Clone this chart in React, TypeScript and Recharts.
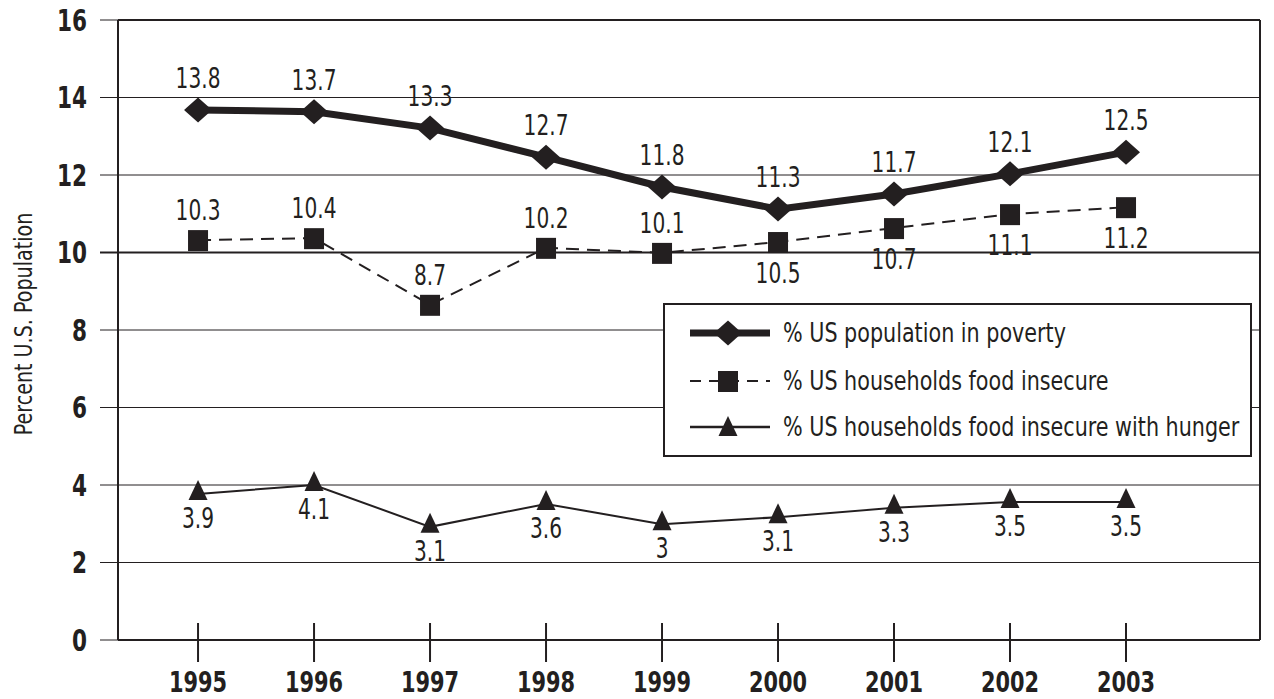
import React from 'react';
import { LineChart, Line, XAxis, YAxis, CartesianGrid, ReferenceLine, LabelList, Legend } from 'recharts';

const years = [1995, 1996, 1997, 1998, 1999, 2000, 2001, 2002, 2003];
const povertyValues = [13.68, 13.63, 13.21, 12.46, 11.69, 11.12, 11.51, 12.03, 12.59];
const povertyLabels = ['13.8', '13.7', '13.3', '12.7', '11.8', '11.3', '11.7', '12.1', '12.5'];
const insecureValues = [10.32, 10.37, 8.65, 10.12, 9.99, 10.27, 10.63, 10.99, 11.17];
const insecureLabels = ['10.3', '10.4', '8.7', '10.2', '10.1', '10.5', '10.7', '11.1', '11.2'];
const hungerValues = [3.77, 4.0, 2.92, 3.51, 2.99, 3.17, 3.41, 3.56, 3.56];
const hungerLabels = ['3.9', '4.1', '3.1', '3.6', '3', '3.1', '3.3', '3.5', '3.5'];
const seriesNames = [
  '% US population in poverty',
  '% US households food insecure',
  '% US households food insecure with hunger',
];
const yTicks = [0, 2, 4, 6, 8, 10, 12, 14, 16];
const yAxisTitle = 'Percent U.S. Population';

const X_MIN = 1994.31;
const X_MAX = 2004.155;

const data = years.map((year, i) => ({
  year,
  poverty: povertyValues[i],
  insecure: insecureValues[i],
  hunger: hungerValues[i],
}));

const FONT = "'Liberation Sans Narrow', 'DejaVu Sans Condensed', 'Arial Narrow', sans-serif";
const INK = '#231f20';

const ScaledText = ({
  x,
  y,
  size,
  anchor = 'middle',
  bold = false,
  rotate = 0,
  sx = 0.8,
  dy,
  children,
}: any) => (
  <text
    transform={`translate(${x},${y}) rotate(${rotate}) scale(${sx},1)`}
    x={0}
    y={0}
    dy={dy}
    textAnchor={anchor}
    fontFamily={FONT}
    fontSize={size}
    fontWeight={bold ? 'bold' : 'normal'}
    fill={INK}
  >
    {children}
  </text>
);

const diamondPts = (cx: number, cy: number) =>
  `${cx - 14},${cy} ${cx},${cy - 12.5} ${cx + 14},${cy} ${cx},${cy + 12.5}`;
const trianglePts = (cx: number, cy: number) =>
  `${cx},${cy - 14} ${cx + 9.5},${cy + 6} ${cx - 9.5},${cy + 6}`;

const DiamondDot = (p: any) => {
  if (p.cx == null || p.cy == null) return <g key={p.index} />;
  return <polygon key={`d${p.index}`} points={diamondPts(p.cx, p.cy)} fill={INK} />;
};
const SquareDot = (p: any) => {
  if (p.cx == null || p.cy == null) return <g key={p.index} />;
  return <rect key={`s${p.index}`} x={p.cx - 10} y={p.cy - 10} width={20} height={21} fill={INK} />;
};
const TriangleDot = (p: any) => {
  if (p.cx == null || p.cy == null) return <g key={p.index} />;
  return <polygon key={`t${p.index}`} points={trianglePts(p.cx, p.cy)} fill={INK} />;
};

const px = (p: any) => (p.x != null ? p.x : p.viewBox ? p.viewBox.x : 0);
const py = (p: any) => (p.y != null ? p.y : p.viewBox ? p.viewBox.y : 0);

const makeLabel = (labels: string[], offset: (i: number) => number) => (p: any) => (
  <ScaledText key={`l${p.index}`} x={px(p)} y={py(p) + offset(p.index)} size={28} sx={0.8}>
    {labels[p.index]}
  </ScaledText>
);

const XTick = (p: any) => {
  const { x, y, payload } = p;
  return (
    <g>
      <line x1={x} x2={x} y1={y - 17} y2={y + 22} stroke={INK} strokeWidth={2} />
      <ScaledText x={x} y={y + 52} size={29} bold sx={0.8}>
        {payload.value}
      </ScaledText>
    </g>
  );
};

const YTick = (p: any) => {
  const { x, y, payload } = p;
  return (
    <g>
      <line x1={x - 18} x2={x} y1={y} y2={y} stroke={INK} strokeWidth={payload.value === 10 ? 2 : 1} />
      <ScaledText x={x - 31} y={y} dy="0.36em" anchor="end" size={30} bold sx={0.8}>
        {payload.value}
      </ScaledText>
    </g>
  );
};

const LegendBox = () => {
  const rows = [28, 76, 122];
  return (
    <div
      style={{
        width: '100%',
        height: '100%',
        boxSizing: 'border-box',
        border: `2px solid ${INK}`,
        background: '#fff',
      }}
    >
      <svg width={585} height={150} style={{ display: 'block' }}>
        {seriesNames.map((name, i) => {
          const cy = rows[i];
          return (
            <g key={name}>
              {i === 0 && <line x1={25} x2={105} y1={cy} y2={cy} stroke={INK} strokeWidth={7} />}
              {i === 1 && (
                <line x1={25} x2={105} y1={cy} y2={cy} stroke={INK} strokeWidth={2} strokeDasharray="11 8" />
              )}
              {i === 2 && <line x1={25} x2={105} y1={cy} y2={cy} stroke={INK} strokeWidth={2.5} />}
              {i === 0 && <polygon points={diamondPts(63, cy)} fill={INK} />}
              {i === 1 && <rect x={53} y={cy - 10} width={20} height={21} fill={INK} />}
              {i === 2 && <polygon points={trianglePts(63, cy + 3)} fill={INK} />}
              <ScaledText x={118} y={cy} dy="0.36em" anchor="start" size={26} sx={0.885}>
                {name}
              </ScaledText>
            </g>
          );
        })}
      </svg>
    </div>
  );
};

export default function App() {
  return (
    <div style={{ position: 'absolute', left: 0, top: 0, width: 1274, height: 699, background: '#fff' }}>
      <LineChart width={1274} height={699} data={data} margin={{ top: 20, right: 14, bottom: 0, left: 0 }}>
        <CartesianGrid vertical={false} stroke={INK} strokeWidth={1} />
        <XAxis
          dataKey="year"
          type="number"
          domain={[X_MIN, X_MAX]}
          allowDataOverflow
          ticks={years}
          interval={0}
          height={59}
          tickSize={0}
          tickMargin={0}
          tickLine={false}
          axisLine={{ stroke: INK, strokeWidth: 2 }}
          tick={<XTick />}
        />
        <YAxis
          type="number"
          domain={[0, 16]}
          ticks={yTicks}
          interval={0}
          width={118}
          tickSize={0}
          tickMargin={0}
          tickLine={false}
          axisLine={{ stroke: INK, strokeWidth: 2 }}
          tick={<YTick />}
          label={{
            content: () => (
              <ScaledText x={32} y={324} rotate={-90} size={25} sx={0.85}>
                {yAxisTitle}
              </ScaledText>
            ),
          }}
        />
        <ReferenceLine y={10} stroke={INK} strokeWidth={2} />
        <ReferenceLine y={16} stroke={INK} strokeWidth={2} />
        <ReferenceLine x={X_MAX} stroke={INK} strokeWidth={2} />
        <Legend
          verticalAlign="middle"
          align="center"
          layout="horizontal"
          wrapperStyle={{ left: 663, top: 303, width: 589, height: 154 }}
          content={() => <LegendBox />}
        />
        <Line
          dataKey="hunger"
          name={seriesNames[2]}
          stroke={INK}
          strokeWidth={2}
          dot={TriangleDot}
          activeDot={false}
          isAnimationActive={false}
        >
          <LabelList dataKey="hunger" content={makeLabel(hungerLabels, () => 34)} />
        </Line>
        <Line
          dataKey="insecure"
          name={seriesNames[1]}
          stroke={INK}
          strokeWidth={2}
          strokeDasharray="13 8"
          dot={SquareDot}
          activeDot={false}
          isAnimationActive={false}
        >
          <LabelList
            dataKey="insecure"
            content={makeLabel(insecureLabels, (i) => (years[i] >= 2000 ? 41 : -20))}
          />
        </Line>
        <Line
          dataKey="poverty"
          name={seriesNames[0]}
          stroke={INK}
          strokeWidth={7}
          dot={DiamondDot}
          activeDot={false}
          isAnimationActive={false}
        >
          <LabelList dataKey="poverty" content={makeLabel(povertyLabels, () => -22)} />
        </Line>
      </LineChart>
    </div>
  );
}
